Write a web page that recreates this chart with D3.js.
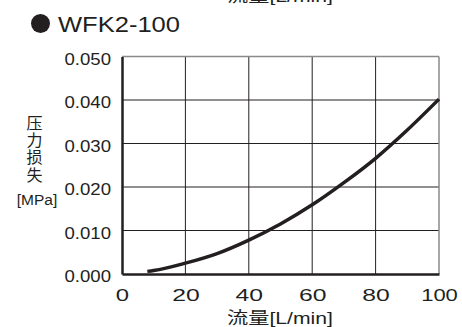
<!DOCTYPE html>
<html><head><meta charset="utf-8">
<script src="https://cdn.jsdelivr.net/npm/d3@7"></script>
<style>
html,body{margin:0;padding:0;background:#fff;}
svg{display:block;}
text{font-family:"Liberation Sans",Arial,"Noto Sans CJK JP",sans-serif;fill:#231f20;}
</style></head>
<body>
<script>
const title = "WFK2-100";
const flow = [8, 10, 20, 30, 40, 50, 60, 70, 80, 90, 100];
const pressure = [0.0006, 0.0008, 0.0025, 0.0047, 0.0078, 0.0115, 0.0159, 0.0210, 0.0266, 0.0331, 0.0402];
const xTicks = [0, 20, 40, 60, 80, 100];
const yTicks = [0, 0.01, 0.02, 0.03, 0.04, 0.05];
const yLabelChars = ["压", "力", "损", "失"];
const yUnit = "[MPa]";
const xLabel = "流量[L/min]";

const W = 462, H = 327;
const svg = d3.select("body").append("svg").attr("width", W).attr("height", H);
const x = d3.scaleLinear().domain([0, 100]).range([122, 439]);
const y = d3.scaleLinear().domain([0, 0.05]).range([274, 56.5]);

// cropped label of previous chart at top
svg.append("text").attr("x", 280).attr("y", 1.5).attr("text-anchor", "middle")
  .attr("font-size", 17).attr("textLength", 106).attr("lengthAdjust", "spacingAndGlyphs").text(xLabel);

// title
svg.append("circle").attr("cx", 40.5).attr("cy", 23.5).attr("r", 9.5).attr("fill", "#231f20");
svg.append("text").attr("x", 58).attr("y", 32).attr("font-size", 22.5)
  .attr("textLength", 122).attr("lengthAdjust", "spacingAndGlyphs").text(title);

// grid
const g = svg.append("g");
g.selectAll("line.vx").data(xTicks.slice(1, -1)).join("line")
  .attr("x1", d => x(d)).attr("x2", d => x(d)).attr("y1", y(0.05)).attr("y2", y(0))
  .attr("stroke", "#231f20").attr("stroke-width", 1);
g.selectAll("line.hy").data(yTicks.slice(1, -1)).join("line")
  .attr("x1", x(0)).attr("x2", x(100)).attr("y1", d => y(d)).attr("y2", d => y(d))
  .attr("stroke", "#231f20").attr("stroke-width", 1);
// top and right border (grey)
g.append("line").attr("x1", x(0)).attr("x2", x(100)).attr("y1", y(0.05)).attr("y2", y(0.05))
  .attr("stroke", "#8a8a8a").attr("stroke-width", 1.5);
g.append("line").attr("x1", x(100)).attr("x2", x(100)).attr("y1", y(0.05)).attr("y2", y(0))
  .attr("stroke", "#8a8a8a").attr("stroke-width", 1.5);

// axes via d3
const xAxis = d3.axisBottom(x).tickValues(xTicks).tickSize(0).tickPadding(12).tickFormat(d3.format("d"));
const yAxis = d3.axisLeft(y).tickValues(yTicks).tickSize(0).tickPadding(11).tickFormat(d3.format(".3f"));
const gx = svg.append("g").attr("transform", `translate(0,${y(0)})`).call(xAxis);
const gy = svg.append("g").attr("transform", `translate(${x(0)},0)`).call(yAxis);
[gx, gy].forEach(a => {
  a.select(".domain").attr("stroke", "#231f20").attr("stroke-width", 2.5);
  a.selectAll("text").attr("font-family", "'Liberation Sans',Arial,sans-serif").attr("fill", "#231f20");
});
gx.selectAll("text").attr("font-size", 16.5).attr("y", 26.7).attr("dy", 0)
  .attr("textLength", d => String(d).length === 1 ? 13.3 : (String(d).length === 2 ? 27.5 : 36.7))
  .attr("lengthAdjust", "spacingAndGlyphs");
gy.selectAll("text").attr("font-size", 17).attr("dy", "0.46em")
  .attr("textLength", 46.5).attr("lengthAdjust", "spacingAndGlyphs");

// curve
const line = d3.line().x((d, i) => x(flow[i])).y(d => y(d)).curve(d3.curveMonotoneX);
svg.append("path").datum(pressure).attr("d", line)
  .attr("fill", "none").attr("stroke", "#231f20").attr("stroke-width", 3.5);

// y label
svg.selectAll("text.yl").data(yLabelChars).join("text")
  .attr("x", 34.5).attr("y", (d, i) => 129 + i * 17.2).attr("text-anchor", "middle")
  .attr("font-size", 16).text(d => d);
svg.append("text").attr("x", 37).attr("y", 205).attr("text-anchor", "middle")
  .attr("font-size", 15.5).text(yUnit);

// x label
svg.append("text").attr("x", 280).attr("y", 323.5).attr("text-anchor", "middle")
  .attr("font-size", 16.5).attr("textLength", 106).attr("lengthAdjust", "spacingAndGlyphs").text(xLabel);
</script>
</body></html>
